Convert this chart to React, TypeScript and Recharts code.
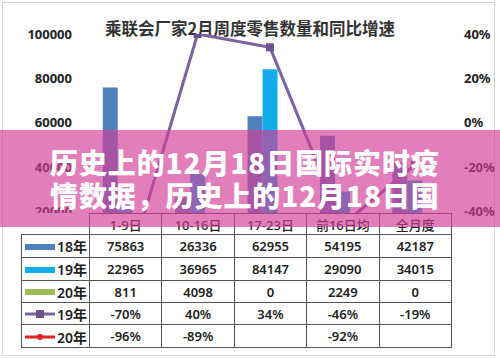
import { Bar, ComposedChart, Line, XAxis, YAxis } from "recharts";

const categories = ["1-9日", "10-16日", "17-23日", "前16日均", "全月度"];
const sales18 = [75863, 26336, 62955, 54195, 42187];
const sales19 = [22965, 36965, 84147, 29090, 34015];
const sales20 = [811, 4098, 0, 2249, 0];
const growth19: (number | null)[] = [-70, 40, 34, -46, -19];
const growth20: (number | null)[] = [-96, -89, null, -92, null];
const leftTicks = [20000, 40000, 60000, 80000, 100000];
const rightTicks = [-40, -20, 0, 20, 40];

const data = categories.map((name, i) => ({
  name,
  s18: sales18[i],
  s19: sales19[i],
  s20: sales20[i],
  g19: growth19[i],
  g20: growth20[i],
}));

const C18 = "#4f81bd";
const C19 = "#13aeea";
const C20 = "#9bbb59";
const CG19 = "#7b62a0";
const CG20 = "#e0202a";

const tickStyle = { fontSize: 13, fill: "#222", fontWeight: 700, fontFamily: "'Noto Sans', sans-serif" };

function SquareDot(props: any) {
  const { cx, cy } = props;
  if (cx == null || cy == null) return null;
  return <rect x={cx - 4} y={cy - 4} width={8} height={8} fill="#6b5290" />;
}

function Key({ kind, color }: { kind: "bar" | "square" | "diamond"; color: string }) {
  return (
    <svg width={30} height={12} style={{ verticalAlign: "middle", marginRight: 2 }}>
      {kind === "bar" ? (
        <rect x={0} y={3} width={30} height={6} fill={color} />
      ) : (
        <>
          <line x1={0} y1={6} x2={30} y2={6} stroke={color} strokeWidth={3} />
          {kind === "square" ? (
            <rect x={11} y={2} width={8} height={8} fill="#6b5290" />
          ) : (
            <circle cx={15} cy={6} r={3} fill={color} />
          )}
        </>
      )}
    </svg>
  );
}

const pct = (v: number | null) => (v == null ? "" : `${v}%`);

const rows = [
  { key: <Key kind="bar" color={C18} />, label: "18年", values: sales18.map(String) },
  { key: <Key kind="bar" color={C19} />, label: "19年", values: sales19.map(String) },
  { key: <Key kind="bar" color={C20} />, label: "20年", values: sales20.map(String) },
  { key: <Key kind="square" color={CG19} />, label: "19年", values: growth19.map(pct) },
  { key: <Key kind="diamond" color={CG20} />, label: "20年", values: growth20.map(pct) },
];

const rowHeights = [23, 23, 22, 22, 23];
const cellFont = { fontFamily: "'Noto Sans', 'Noto Sans CJK SC', sans-serif", fontSize: 13, fontWeight: 600, color: "#222" };

export default function App() {
  return (
    <div style={{ position: "absolute", left: 0, top: 0, width: 500, height: 358, background: "#fff", overflow: "hidden" }}>
      <div style={{ position: "absolute", left: 2, top: 2, width: 491, height: 352, border: "1px solid #d6d6d6" }} />
      <div
        style={{
          position: "absolute",
          left: 0,
          width: 500,
          top: 16,
          textAlign: "center",
          fontFamily: "'Noto Sans CJK SC', sans-serif",
          fontWeight: 700,
          fontSize: 16.5,
          color: "#333",
        }}
      >
        乘联会厂家2月周度零售数量和同比增速
      </div>
      <div style={{ position: "absolute", left: 0, top: 0 }}>
        <ComposedChart
          width={500}
          height={358}
          data={data}
          margin={{ top: 34, right: 4, bottom: 102, left: 29 }}
          barCategoryGap="19%"
          barGap={0}
        >
          <XAxis dataKey="name" hide />
          <YAxis
            yAxisId="left"
            width={60}
            domain={[0, 100000]}
            ticks={leftTicks}
            axisLine={false}
            tickLine={false}
            tickSize={0}
            tickMargin={17}
            tick={tickStyle}
          />
          <YAxis
            yAxisId="right"
            orientation="right"
            width={45}
            domain={[-60, 40]}
            ticks={rightTicks}
            allowDataOverflow
            axisLine={false}
            tickLine={false}
            tickSize={0}
            tickMargin={13}
            tick={tickStyle}
            tickFormatter={(v: number) => `${v}%`}
          />
          <Bar yAxisId="left" dataKey="s18" fill={C18} isAnimationActive={false} />
          <Bar yAxisId="left" dataKey="s19" fill={C19} isAnimationActive={false} />
          <Bar yAxisId="left" dataKey="s20" fill={C20} isAnimationActive={false} />
          <Line
            yAxisId="right"
            dataKey="g19"
            stroke={CG19}
            strokeWidth={3}
            type="linear"
            dot={<SquareDot />}
            isAnimationActive={false}
          />
          <Line
            yAxisId="right"
            dataKey="g20"
            stroke={CG20}
            strokeWidth={3}
            type="linear"
            dot={false}
            isAnimationActive={false}
          />
        </ComposedChart>
      </div>
      <table
        style={{
          position: "absolute",
          left: 21,
          top: 213,
          borderCollapse: "collapse",
          tableLayout: "fixed",
          background: "#fff",
          ...cellFont,
        }}
      >
        <colgroup>
          <col style={{ width: 68 }} />
          {categories.map((c) => (
            <col key={c} style={{ width: 72.4 }} />
          ))}
        </colgroup>
        <tbody>
          <tr style={{ height: 21 }}>
            <td style={{ padding: 0, background: "transparent" }} />
            {categories.map((c) => (
              <td key={c} style={{ border: "1px solid #555", textAlign: "center", padding: 0, fontWeight: 500 }}>
                {c}
              </td>
            ))}
          </tr>
          {rows.map((r, i) => (
            <tr key={i} style={{ height: rowHeights[i] }}>
              <td style={{ border: "1px solid #555", padding: "0 0 0 3px", whiteSpace: "nowrap", fontSize: 14 }}>
                {r.key}
                <span style={{ verticalAlign: "middle" }}>{r.label}</span>
              </td>
              {r.values.map((v, j) => (
                <td key={j} style={{ border: "1px solid #555", textAlign: "center", padding: 0 }}>
                  {v}
                </td>
              ))}
            </tr>
          ))}
        </tbody>
      </table>
      <div
        style={{
          position: "absolute",
          left: 0,
          top: 130,
          width: 500,
          height: 97,
          background: "rgba(211, 60, 150, 0.66)",
        }}
      />
      <div
        style={{
          position: "absolute",
          left: 50,
          top: 146,
          width: 440,
          color: "#fff",
          fontFamily: "'Noto Sans CJK SC', sans-serif",
          fontWeight: 900,
          fontSize: 28,
          lineHeight: "33px",
          letterSpacing: 0.9,
        }}
      >
        <div>历史上的12月18日国际实时疫</div>
        <div>情数据，历史上的12月18日国</div>
      </div>
    </div>
  );
}
